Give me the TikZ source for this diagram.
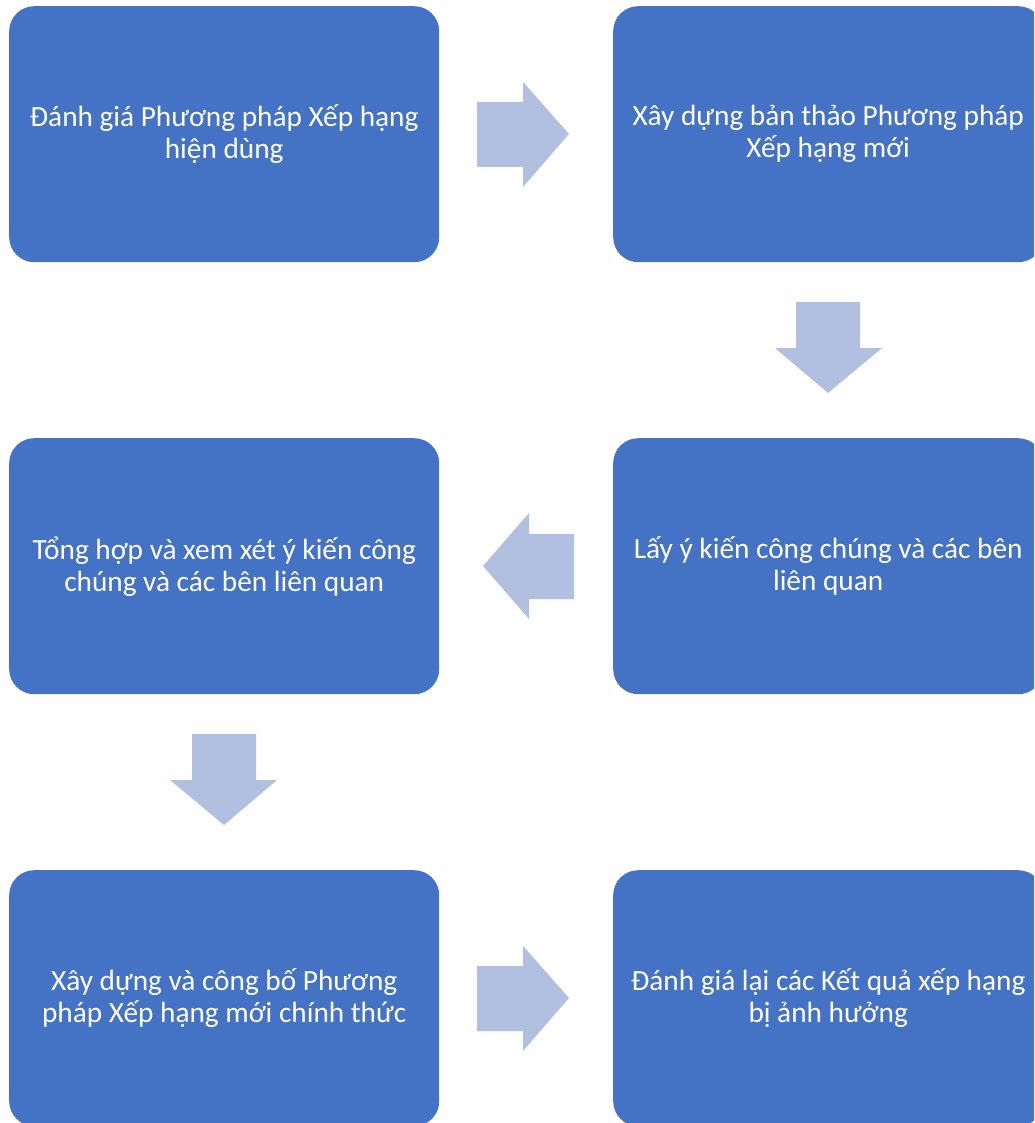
\documentclass[tikz,border=0pt]{standalone}
\usepackage{fontspec}
\setmainfont{Carlito}
\definecolor{boxblue}{HTML}{4472C4}
\definecolor{arrowblue}{HTML}{B1BFE0}
\begin{document}
\begin{tikzpicture}[x=1pt,y=-1pt,
  stepbox/.style={fill=boxblue, draw=none, rounded corners=25pt, minimum width=430pt, minimum height=256pt, text=white, align=center, font=\fontsize{29.3}{32}\selectfont, anchor=north west, inner sep=0pt},
  flowarrow/.style={fill=arrowblue, draw=none}]
\useasboundingbox (0,0) rectangle (1034,1123);
\begin{scope}
\clip (0,0) rectangle (1034,1123);
\node[stepbox] (b1) at (9,6) {Đánh giá Phương pháp Xếp hạng\\hiện dùng};
\node[stepbox] (b2) at (613,6) {Xây dựng bản thảo Phương pháp\\Xếp hạng mới};
\node[stepbox] (b3) at (613,438) {Lấy ý kiến công chúng và các bên\\liên quan};
\node[stepbox] (b4) at (9,438) {Tổng hợp và xem xét ý kiến công\\chúng và các bên liên quan};
\node[stepbox] (b5) at (9,870) {Xây dựng và công bố Phương\\pháp Xếp hạng mới chính thức};
\node[stepbox] (b6) at (613,870) {Đánh giá lại các Kết quả xếp hạng\\bị ảnh hưởng};
\end{scope}
% right arrow row 1
\fill[flowarrow] (477,102) -- (523,102) -- (523,82) -- (569,134) -- (523,187) -- (523,167) -- (477,167) -- cycle;
% down arrow right column
\fill[flowarrow] (796,302) -- (860,302) -- (860,348) -- (882,348) -- (828,393) -- (775,348) -- (796,348) -- cycle;
% left arrow row 2
\fill[flowarrow] (574,534) -- (529,534) -- (529,513) -- (483,566) -- (529,619) -- (529,599) -- (574,599) -- cycle;
% down arrow left column
\fill[flowarrow] (192,734) -- (256,734) -- (256,780) -- (277,780) -- (224,825) -- (170,780) -- (192,780) -- cycle;
% right arrow row 3
\fill[flowarrow] (477,966) -- (523,966) -- (523,946) -- (569,998) -- (523,1051) -- (523,1031) -- (477,1031) -- cycle;
\end{tikzpicture}
\end{document}
